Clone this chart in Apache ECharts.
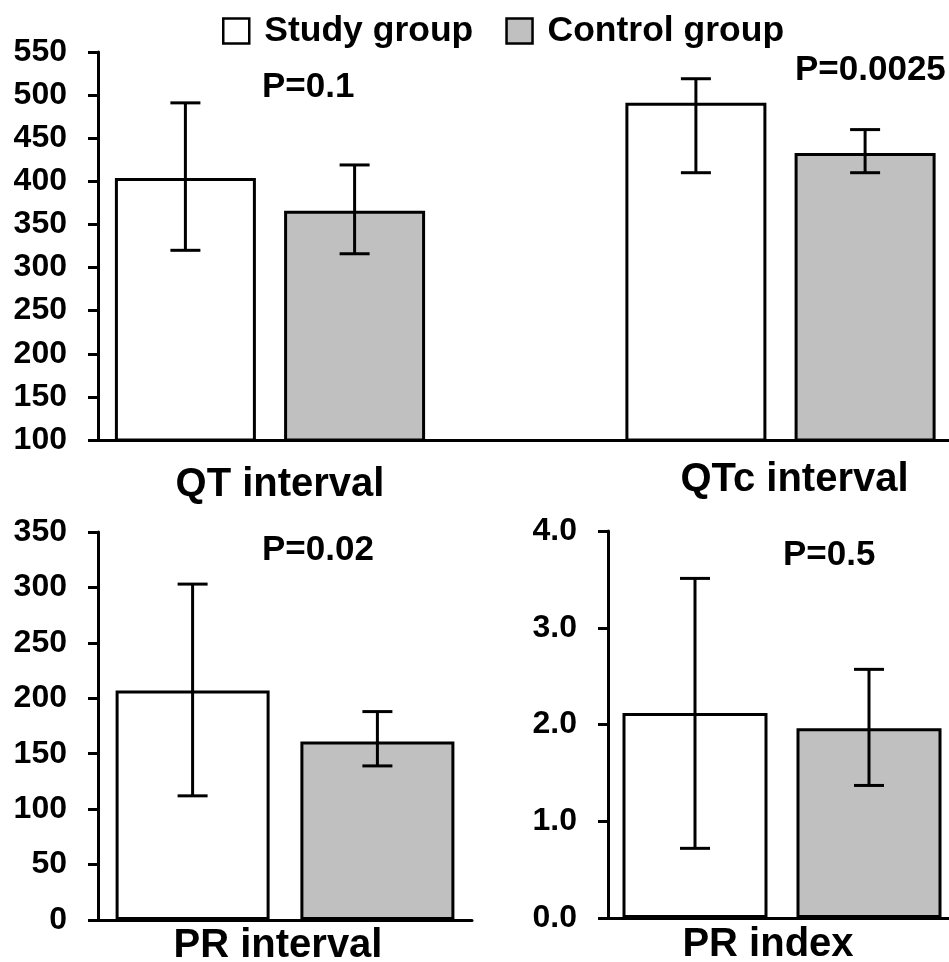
<!DOCTYPE html>
<html><head><meta charset="utf-8">
<script src="https://cdn.jsdelivr.net/npm/echarts@6/dist/echarts.min.js"></script>
<style>html,body{margin:0;padding:0;background:#fff}#c{width:949px;height:962px}</style>
</head><body><div id="c"></div>
<script>
// ---- data ----
const seriesNames = ['Study group', 'Control group'];
const catQT = ['QT interval'];
const catQTc = ['QTc interval'];
const catPR = ['PR interval'];
const catPRi = ['PR index'];

const qtStudy = [404];   const qtStudyErr = [[320, 491]];
const qtControl = [366]; const qtControlErr = [[316, 419]];
const qtcStudy = [491];  const qtcStudyErr = [[410, 519]];
const qtcControl = [433];const qtcControlErr = [[410, 460]];
const prStudy = [207];   const prStudyErr = [[112, 303]];
const prControl = [161]; const prControlErr = [[139, 188]];
const priStudy = [2.12]; const priStudyErr = [[0.72, 3.51]];
const priControl = [1.96]; const priControlErr = [[1.37, 2.57]];

const pLabels = ['P=0.1', 'P=0.0025', 'P=0.02', 'P=0.5'];

const topAxis = {min: 100, max: 550, interval: 50};
const prAxis = {min: 0, max: 350, interval: 50};
const priAxis = {min: 0, max: 4, interval: 1};

// ---- styles ----
const FONT = "'Liberation Sans', Arial, sans-serif";
const GRAY = '#c0c0c0';
const LW = 3;

const chart = echarts.init(document.getElementById('c'));

const grids = [
  {left: 98, top: 52, width: 344, height: 388},   // QT
  {left: 612, top: 52, width: 337, height: 388},  // QTc
  {left: 98, top: 532, width: 374, height: 388},  // PR interval
  {left: 608, top: 531, width: 348, height: 387}, // PR index
  {left: 440, top: 52, width: 174, height: 388}   // baseline link (top panel)
].map(g => Object.assign(g, {outerBoundsMode: 'none', containLabel: false}));
const barW = [141, 141, 154, 145];
const GAP = 0.2;

function xAxisFor(gi, data, margin, padding) {
  return {
    type: 'category', gridIndex: gi, data: data,
    axisLine: {show: true, lineStyle: {color: '#000', width: LW}},
    axisTick: {show: false},
    axisLabel: {margin: margin, padding: padding, fontSize: 40, fontWeight: 'bold', fontFamily: FONT, color: '#000'}
  };
}
function yAxisFor(gi, ax, show, fmt) {
  return {
    type: 'value', gridIndex: gi, min: ax.min, max: ax.max, interval: ax.interval, show: show,
    splitLine: {show: false},
    axisLine: {show: true, lineStyle: {color: '#000', width: LW}},
    axisTick: {show: true, length: 10, lineStyle: {color: '#000', width: LW}},
    axisLabel: {margin: 31, fontSize: 32, fontWeight: 'bold', fontFamily: FONT, color: '#000', formatter: fmt}
  };
}

function barSeries(name, gi, data, color, w) {
  return {
    name: name, type: 'bar', xAxisIndex: gi, yAxisIndex: gi, data: data,
    barWidth: w, barGap: (GAP * 100) + '%', clip: true,
    itemStyle: {color: color, borderColor: '#000', borderWidth: LW},
    emphasis: {disabled: true}, z: 2
  };
}
function errSeries(gi, errs, side, w) {
  return {
    type: 'custom', xAxisIndex: gi, yAxisIndex: gi,
    data: errs.map((e, i) => [i, e[0], e[1]]),
    encode: {x: 0, y: [1, 2]}, z: 5, silent: true,
    renderItem: function (params, api) {
      const lo = api.coord([api.value(0), api.value(1)]);
      const hi = api.coord([api.value(0), api.value(2)]);
      const cx = lo[0] + side * w * (1 + GAP) / 2;
      const half = 15;
      const st = {stroke: '#000', lineWidth: LW};
      return {type: 'group', children: [
        {type: 'line', shape: {x1: cx, y1: lo[1], x2: cx, y2: hi[1]}, style: st},
        {type: 'line', shape: {x1: cx - half, y1: lo[1], x2: cx + half, y2: lo[1]}, style: st},
        {type: 'line', shape: {x1: cx - half, y1: hi[1], x2: cx + half, y2: hi[1]}, style: st}
      ]};
    }
  };
}

const pPos = [[262, 70], [795, 53], [262, 533], [783, 538]];

const linkX = xAxisFor(4, [''], 0, 0);
linkX.axisLabel = {show: false};

const option = {
  animation: false,
  backgroundColor: '#fff',
  textStyle: {fontFamily: FONT},
  title: pLabels.map((t, i) => ({
    text: t, left: pPos[i][0], top: pPos[i][1], padding: 0,
    textStyle: {fontSize: 35, fontWeight: 'bold', fontFamily: FONT, color: '#000'}
  })),
  legend: {
    data: seriesNames, left: 222, top: 13, padding: 0, icon: 'rect',
    itemWidth: 26, itemHeight: 25, itemGap: 32,
    itemStyle: {borderColor: '#000', borderWidth: 2.5},
    textStyle: {fontSize: 35.5, fontWeight: 'bold', fontFamily: FONT, color: '#000', padding: [0, 0, 0, 10]},
    selectedMode: false
  },
  grid: grids,
  xAxis: [
    xAxisFor(0, catQT, 25, [0, 0, 0, 20]),
    xAxisFor(1, catQTc, 20, [0, 0, 0, 28]),
    xAxisFor(2, catPR, 6, [0, 14, 0, 0]),
    xAxisFor(3, catPRi, 7, [0, 28, 0, 0]),
    linkX
  ],
  yAxis: [
    yAxisFor(0, topAxis, true),
    yAxisFor(1, topAxis, false),
    yAxisFor(2, prAxis, true),
    yAxisFor(3, priAxis, true, v => v.toFixed(1)),
    yAxisFor(4, topAxis, false)
  ],
  series: [
    barSeries(seriesNames[0], 0, qtStudy, '#fff', barW[0]),
    barSeries(seriesNames[1], 0, qtControl, GRAY, barW[0]),
    barSeries(seriesNames[0], 1, qtcStudy, '#fff', barW[1]),
    barSeries(seriesNames[1], 1, qtcControl, GRAY, barW[1]),
    barSeries(seriesNames[0], 2, prStudy, '#fff', barW[2]),
    barSeries(seriesNames[1], 2, prControl, GRAY, barW[2]),
    barSeries(seriesNames[0], 3, priStudy, '#fff', barW[3]),
    barSeries(seriesNames[1], 3, priControl, GRAY, barW[3]),
    errSeries(0, qtStudyErr, -1, barW[0]),
    errSeries(0, qtControlErr, 1, barW[0]),
    errSeries(1, qtcStudyErr, -1, barW[1]),
    errSeries(1, qtcControlErr, 1, barW[1]),
    errSeries(2, prStudyErr, -1, barW[2]),
    errSeries(2, prControlErr, 1, barW[2]),
    errSeries(3, priStudyErr, -1, barW[3]),
    errSeries(3, priControlErr, 1, barW[3])
  ]
};
chart.setOption(option);
</script></body></html>
